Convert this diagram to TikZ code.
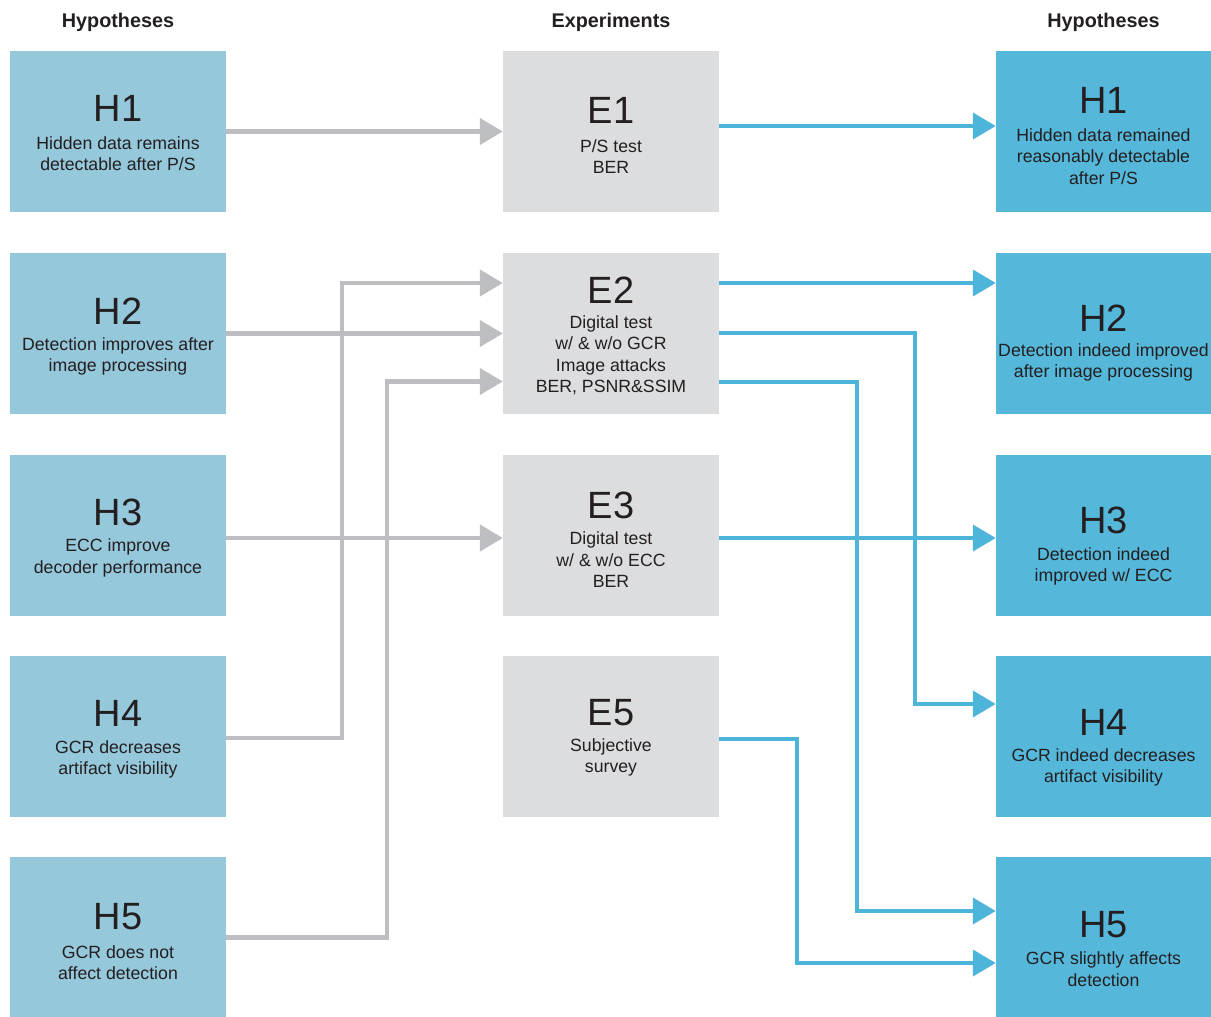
\documentclass[tikz,border=0pt]{standalone}
\usepackage{fontspec}
\setmainfont{Liberation Sans}
\usetikzlibrary{arrows.meta}
\definecolor{hl}{HTML}{96C8DC}
\definecolor{hr}{HTML}{55B8DB}
\definecolor{eb}{HTML}{DCDDDF}
\definecolor{ga}{HTML}{BCBEC2}
\definecolor{ba}{HTML}{4DB5DA}
\definecolor{tx}{HTML}{231F20}
\begin{document}
\begin{tikzpicture}[x=1pt,y=-1pt,
 box/.style={rectangle, minimum width=216pt, minimum height=161pt, inner sep=0pt},
 hleft/.style={box, fill=hl},
 hright/.style={box, fill=hr, minimum width=215pt},
 expbox/.style={box, fill=eb},
 num/.style={inner sep=0pt, text=tx, font=\fontsize{38}{38}\selectfont},
 txt/.style={inner sep=0pt, text=tx, align=center, font=\fontsize{17.7}{21.5}\selectfont},
 head/.style={inner sep=0pt, text=tx, anchor=base, font=\bfseries\fontsize{19.8}{20}\selectfont},
 garr/.style={draw=ga, line width=4.5pt, -{Triangle[length=23pt,width=26pt]}},
 barr/.style={draw=ba, line width=4pt, -{Triangle[length=23pt,width=26pt]}}]
\useasboundingbox (0,0) rectangle (1211,1017);
% headers
\node[head] (hd1) at (118,27.5) {Hypotheses};
\node[head] (hd2) at (611,27.5) {Experiments};
\node[head] (hd3) at (1103.5,27.5) {Hypotheses};
% left hypotheses
\node[hleft] (H1) at (118,131.5) {};
\node[hleft] (H2) at (118,333.5) {};
\node[hleft] (H3) at (118,535.5) {};
\node[hleft] (H4) at (118,736.5) {};
\node[hleft] (H5) at (118,937.5) {};
\node[num] (H1n) at (118,108) {H1};
\node[txt] (H1t) at (118,153.5) {Hidden data remains\\detectable after P/S};
\node[num] (H2n) at (118,311) {H2};
\node[txt] (H2t) at (118,356.5) {Detection improves after\\image processing};
\node[num] (H3n) at (118,512) {H3};
\node[txt] (H3t) at (118,558) {ECC improve\\decoder performance};
\node[num] (H4n) at (118,713) {H4};
\node[txt] (H4t) at (118,759.5) {GCR decreases\\artifact visibility};
\node[num] (H5n) at (118,917) {H5};
\node[txt] (H5t) at (118,962.5) {GCR does not\\affect detection};
% experiments
\node[expbox] (E1) at (611,131.5) {};
\node[expbox] (E2) at (611,333.5) {};
\node[expbox] (E3) at (611,535.5) {};
\node[expbox] (E5) at (611,736.5) {};
\node[num] (E1n) at (611,110) {E1};
\node[txt] (E1t) at (611,156.5) {P/S test\\BER};
\node[num] (E2n) at (611,290) {E2};
\node[txt] (E2t) at (611,355) {Digital test\\w/ \& w/o GCR\\Image attacks\\BER, PSNR\&SSIM};
\node[num] (E3n) at (611,505) {E3};
\node[txt] (E3t) at (611,560) {Digital test\\w/ \& w/o ECC\\BER};
\node[num] (E5n) at (611,713) {E5};
\node[txt] (E5t) at (611,757.5) {Subjective\\survey};
% right hypotheses
\node[hright] (R1) at (1103.5,131.5) {};
\node[hright] (R2) at (1103.5,333.5) {};
\node[hright] (R3) at (1103.5,535.5) {};
\node[hright] (R4) at (1103.5,736.5) {};
\node[hright] (R5) at (1103.5,937.5) {};
\node[num] (R1n) at (1103.5,100.5) {H1};
\node[txt] (R1t) at (1103.5,156.5) {Hidden data remained\\reasonably detectable\\after P/S};
\node[num] (R2n) at (1103.5,318) {H2};
\node[txt] (R2t) at (1103.5,362.5) {Detection indeed improved\\after image processing};
\node[num] (R3n) at (1103.5,520.5) {H3};
\node[txt] (R3t) at (1103.5,566.5) {Detection indeed\\improved w/ ECC};
\node[num] (R4n) at (1103.5,722) {H4};
\node[txt] (R4t) at (1103.5,767.5) {GCR indeed decreases\\artifact visibility};
\node[num] (R5n) at (1103.5,925) {H5};
\node[txt] (R5t) at (1103.5,969) {GCR slightly affects\\detection};
% gray connectors
\draw[garr] (H1.east) -- (E1.west);
\draw[garr] (H2.east) -- (E2.west);
\draw[garr] ([yshift=-2.5pt]H3.east) -- ([yshift=-2.5pt]E3.west);
\draw[garr] ([yshift=-1.5pt]H4.east) -- (342,738) -- (342,283) -- ([yshift=50.5pt]E2.west);
\draw[garr] (H5.east) -- (387,937.5) -- (387,381.5) -- ([yshift=-48pt]E2.west);
% blue connectors
\draw[barr] ([yshift=5.5pt]E1.east) -- ([yshift=5.5pt]R1.west);
\draw[barr] ([yshift=50.5pt]E2.east) -- ([yshift=50.5pt]R2.west);
\draw[barr] ([yshift=1pt]E2.east) -- (915,332.5) -- (915,704) -- ([yshift=32.5pt]R4.west);
\draw[barr] ([yshift=-48pt]E2.east) -- (857,381.5) -- (857,911) -- ([yshift=26.5pt]R5.west);
\draw[barr] ([yshift=-2.5pt]E3.east) -- ([yshift=-2.5pt]R3.west);
\draw[barr] ([yshift=-2.5pt]E5.east) -- (797,739) -- (797,963) -- ([yshift=-25.5pt]R5.west);
\end{tikzpicture}
\end{document}
